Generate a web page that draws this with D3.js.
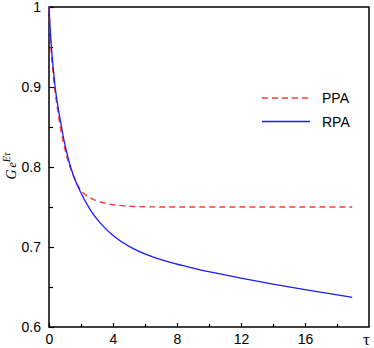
<!DOCTYPE html>
<html>
<head>
<meta charset="utf-8">
<script src="https://cdn.jsdelivr.net/npm/d3@7"></script>
<style>
  body { margin: 0; background: #fff; }
  svg { display: block; }
</style>
</head>
<body>
<div id="chart"></div>
<script>
// values
const tauPPA = [0, 0.05, 0.1, 0.23, 0.4, 0.54, 0.75, 1.0, 1.17, 1.5, 1.94, 2.27, 2.77, 3.4, 4.02, 5.27, 6.5, 8, 10, 12, 14, 16, 18, 18.95];
const gPPA   = [1, 0.972, 0.952, 0.92, 0.89, 0.871, 0.843, 0.822, 0.808, 0.789, 0.771, 0.765, 0.759, 0.755, 0.7525, 0.7504, 0.7501, 0.75, 0.75, 0.75, 0.75, 0.75, 0.75, 0.75];

const tauRPA = [0, 0.1, 0.2, 0.375, 0.5, 0.69, 0.85, 1.0, 1.25, 1.5, 1.94, 2.56, 3.19, 4.02, 5.06, 6.1, 7.15, 8.19, 9.33, 10, 12, 14, 16, 18, 18.95];
const gRPA   = [1, 0.962, 0.937, 0.9, 0.882, 0.86, 0.842, 0.827, 0.806, 0.79, 0.769, 0.746, 0.7296, 0.7129, 0.6996, 0.69, 0.683, 0.6775, 0.672, 0.669, 0.661, 0.6535, 0.6467, 0.6402, 0.637];

const xMajor = [0, 4, 8, 12, 16];
const xMinor = [2, 6, 10, 14, 18];
const yMajor = [0.6, 0.7, 0.8, 0.9, 1];
const yMinor = [0.65, 0.75, 0.85, 0.95];

const seriesNames = ["PPA", "RPA"];

const width = 374, height = 348;
const margin = { top: 7, right: 5, bottom: 21, left: 49 };

const svg = d3.select("#chart").append("svg")
  .attr("width", width)
  .attr("height", height);

const x = d3.scaleLinear().domain([0, 20]).range([margin.left, width - margin.right]);
const y = d3.scaleLinear().domain([0.6, 1]).range([height - margin.bottom, margin.top]);

// ticks point inward
const xAxis = d3.axisBottom(x).tickValues(xMajor).tickSize(-4).tickPadding(7).tickFormat(d3.format("d"));
const xAxisMinor = d3.axisBottom(x).tickValues(xMinor).tickSize(-3).tickFormat("");
const yAxis = d3.axisLeft(y).tickValues(yMajor).tickSize(-5).tickPadding(8).tickFormat(d => d === 1 ? "1" : d3.format(".1f")(d));
const yAxisMinor = d3.axisLeft(y).tickValues(yMinor).tickSize(-4).tickFormat("");

function styleAxis(g) {
  g.select(".domain").remove();
  g.selectAll("line").attr("stroke", "#000").attr("stroke-width", 1.2);
  g.selectAll("text").attr("fill", "#000")
    .style("font-family", "Liberation Sans, Arial, sans-serif")
    .style("font-size", "14px");
}

svg.append("g").attr("transform", `translate(0,${y(0.6)})`).call(xAxis).call(styleAxis);
svg.append("g").attr("transform", `translate(0,${y(0.6)})`).call(xAxisMinor).call(styleAxis);
svg.append("g").attr("transform", `translate(${x(0)},0)`).call(yAxis).call(styleAxis);
svg.append("g").attr("transform", `translate(${x(0)},0)`).call(yAxisMinor).call(styleAxis);

// frame
svg.append("rect")
  .attr("x", x(0)).attr("y", y(1))
  .attr("width", x(20) - x(0)).attr("height", y(0.6) - y(1))
  .attr("fill", "none").attr("stroke", "#000").attr("stroke-width", 1.5);

const line = d3.line().x(d => x(d[0])).y(d => y(d[1])).curve(d3.curveBasis);

svg.append("path")
  .datum(d3.zip(tauPPA, gPPA))
  .attr("d", line)
  .attr("fill", "none")
  .attr("stroke", "#ff3b3b")
  .attr("stroke-width", 1.4)
  .attr("stroke-dasharray", "6,4");

svg.append("path")
  .datum(d3.zip(tauRPA, gRPA))
  .attr("d", line)
  .attr("fill", "none")
  .attr("stroke", "#1c1cff")
  .attr("stroke-width", 1.3);

// legend
const legend = svg.append("g");
const legendStyles = [
  { color: "#ff3b3b", dash: "6,4" },
  { color: "#1c1cff", dash: null }
];
seriesNames.forEach((name, i) => {
  const ly = 98 + i * 23.5;
  legend.append("line")
    .attr("x1", 262).attr("x2", 310)
    .attr("y1", ly).attr("y2", ly)
    .attr("stroke", legendStyles[i].color)
    .attr("stroke-width", 1.4)
    .attr("stroke-dasharray", legendStyles[i].dash);
  legend.append("text")
    .attr("x", 322).attr("y", ly + 5)
    .style("font-family", "Liberation Sans, Arial, sans-serif")
    .style("font-size", "14px")
    .text(name);
});

// axis titles
svg.append("text")
  .attr("x", 363).attr("y", 345)
  .style("font-family", "Liberation Serif, serif")
  .style("font-size", "17px")
  .text("τ");

const ylab = svg.append("text")
  .attr("transform", "translate(16,166) rotate(-90)")
  .attr("text-anchor", "middle")
  .style("font-family", "Liberation Serif, serif")
  .style("font-style", "italic")
  .style("font-size", "14px");
ylab.append("tspan").text("G");
ylab.append("tspan").attr("dx", 2).style("font-size", "12px").text("e");
ylab.append("tspan").attr("dy", -6).style("font-size", "10px").text("Eτ");
</script>
</body>
</html>
